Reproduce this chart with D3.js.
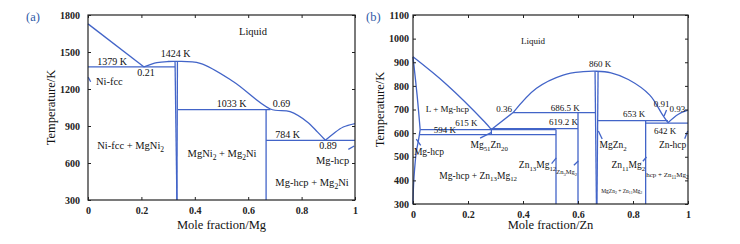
<!DOCTYPE html>
<head>
<meta charset="utf-8">
<style>
  body { margin: 0; background: #fff; }
  svg, svg text { font-family: 'Liberation Serif', 'DejaVu Serif', serif; }
</style>
<script src="https://cdn.jsdelivr.net/npm/d3@7"></script>
</head>
<body>
<svg id=chart width="740" height="244"></svg>
<script>
// ---- panel (a): Ni-Mg ----
const a_xTicks = [0, 0.2, 0.4, 0.6, 0.8, 1]
const a_yTicks = [300, 600, 900, 1200, 1500, 1800]
const a_curves = [
  [[0, 1728], [0.21, 1379]],
  [[0.21, 1379], [0.258, 1413], [0.3, 1423], [0.333, 1424], [0.42, 1408], [0.545, 1259], [0.683, 1038],
   [0.757, 1016], [0.82, 935], [0.86, 850], [0.889, 784]],
  [[0.889, 784], [0.919, 838], [0.956, 892], [1, 920]],
]
const a_lines = [
  [[0, 1379], [0.326, 1379]],
  [[0.337, 1033], [0.683, 1033]],
  [[0.667, 784], [1, 784]],
  [[0.326, 1424], [0.333, 300]],
  [[0.335, 1424], [0.333, 300]],
  [[0.667, 1033], [0.667, 300]],
  // leaders
  [[0.01, 1259], [0.001, 1295]],
  [[0.975, 711], [0.997, 738]],
]
const a_labels = [
  ['Liquid', 0.618, 1640, 10.5],
  ['1379 K', 0.09, 1398, 10],
  ['0.21', 0.217, 1305, 10],
  ['1424 K', 0.328, 1462, 10],
  ['Ni-fcc', 0.08, 1232, 10.5],
  ['1033 K', 0.538, 1056, 10],
  ['0.69', 0.725, 1056, 10],
  ['Ni-fcc + MgNi_2', 0.16, 716, 10.5],
  ['MgNi_2 + Mg_2Ni', 0.502, 649, 10.5],
  ['784 K', 0.748, 805, 10],
  ['0.89', 0.899, 711, 10],
  ['Mg-hcp', 0.916, 594, 10.5],
  ['Mg-hcp + Mg_2Ni', 0.839, 411, 10.5],
]

// ---- panel (b): Mg-Zn ----
const b_xTicks = [0, 0.2, 0.4, 0.6, 0.8, 1]
const b_yTicks = [300, 400, 500, 600, 700, 800, 900, 1000, 1100]
const b_curves = [
  [[0, 923], [0.12, 808], [0.26, 648], [0.285, 615]],
  [[0.285, 615], [0.364, 687]],
  [[0.364, 687], [0.449, 790], [0.546, 846], [0.619, 860], [0.667, 862], [0.72, 855], [0.783, 827],
   [0.861, 761], [0.904, 684], [0.927, 644]],
  [[0.927, 644], [0.965, 680], [1, 697]],
  [[0, 923], [0.015, 760], [0.026, 615]],
  [[0.026, 615], [0.02, 570], [0.012, 520], [0.006, 450], [0.002, 380], [0, 300]],
]
const b_lines = [
  [[0.364, 686.5], [0.662, 686.5]],
  [[0.285, 619.2], [0.6, 619.2]],
  [[0.026, 615], [0.52, 615]],
  [[0.022, 594], [0.52, 594]],
  [[0.285, 619.2], [0.285, 594]],
  [[0.52, 615], [0.52, 300]],
  [[0.6, 686.5], [0.6, 300]],
  [[0.662, 860], [0.667, 300]],
  [[0.673, 860], [0.669, 300]],
  [[0.673, 653], [0.927, 653]],
  [[0.846, 642], [1, 642]],
  [[0.846, 653], [0.846, 300]],
  // leaders
  [[0.913, 672], [0.922, 698]],
  [[0.244, 579], [0.286, 603]],
  [[0.028, 548], [0.012, 575]],
  [[0.504, 471], [0.521, 495]],
  [[0.585, 464], [0.601, 482]],
  [[0.674, 609], [0.688, 575]],
  [[0.836, 481], [0.849, 499]],
  [[0.988, 576], [0.999, 609]],
]
const b_labels = [
  ['Liquid', 0.436, 977, 9],
  ['860 K', 0.68, 881, 9],
  ['L + Mg-hcp', 0.125, 691, 9],
  ['0.36', 0.331, 691, 9],
  ['686.5 K', 0.554, 695, 9],
  ['619.2 K', 0.547, 634, 9],
  ['615 K', 0.194, 630, 9],
  ['594 K', 0.116, 602, 9],
  ['Mg_{51}Zn_{20}', 0.277, 537, 9.5],
  ['Mg-hcp', 0.058, 506, 9.5],
  ['Mg-hcp + Zn_{13}Mg_{12}', 0.237, 407, 9.5],
  ['Zn_{13}Mg_{12}', 0.453, 452, 9.5],
  ['Zn_3Mg_2', 0.559, 426, 6.5],
  ['MgZn_2', 0.728, 537, 9.5],
  ['Zn_{11}Mg_2', 0.783, 452, 9.5],
  ['Zn-hcp', 0.944, 537, 9.5],
  ['hcp + Zn_{11}Mg_2', 0.925, 414, 7],
  ['MgZn_2 + Zn_{11}Mg_2', 0.759, 347, 5.5],
  ['653 K', 0.804, 670, 9],
  ['642 K', 0.917, 595, 9],
  ['0.91', 0.904, 709, 9],
  ['0.93', 0.961, 691, 9],
]

const BLUE = '#4264c8'
const FONT = "'Liberation Serif', 'DejaVu Serif', serif"
const svg = d3.select('#chart').attr('font-family', FONT)

// "Mg_{51}Zn_{20}" -> tspans with subscripts
const rich = (sel, str, size) => {
  const parts = str.split(/_\{?(\d+)\}?/)
  parts.forEach((p, i) => {
    if (!p) return
    const sub = i % 2 === 1
    sel.append('tspan')
      .attr('font-size', sub ? size * 0.72 : size)
      .attr('dy', sub ? size * 0.28 : (i > 1 ? -size * 0.28 : 0))
      .text(p)
  })
}

function panel(cfg) {
  const { left, right, top, bottom, yDomain, xTicks, yTicks, curves, lines, labels, tag, xTitle, yTitleX, yLabelGap } = cfg
  const x = d3.scaleLinear().domain([0, 1]).range([left, right])
  const y = d3.scaleLinear().domain(yDomain).range([bottom, top])
  const g = svg.append('g')

  const line = d3.line().x(d => x(d[0])).y(d => y(d[1]))
  const smooth = d3.line().x(d => x(d[0])).y(d => y(d[1])).curve(d3.curveCatmullRom)

  g.selectAll('path.c').data(curves).join('path')
    .attr('class', 'c')
    .attr('d', smooth)
    .attr('fill', 'none').attr('stroke', BLUE).attr('stroke-width', 1.3)

  g.selectAll('path.l').data(lines).join('path')
    .attr('class', 'l')
    .attr('d', line)
    .attr('fill', 'none').attr('stroke', BLUE).attr('stroke-width', 1.3)

  // axes, ticks pointing inward on all sides
  const ax = (axisFn, scale, ticks, fmt) => axisFn(scale).tickValues(ticks).tickSizeInner(-3).tickSizeOuter(0).tickFormat(fmt)
  const styleAxis = s => {
    s.attr('font-family', FONT)
    s.select('.domain').remove()
    s.selectAll('line').attr('stroke', '#222').attr('stroke-width', 1)
    s.selectAll('text').attr('font-size', 10).attr('font-weight', 'bold').attr('fill', '#222')
  }
  g.append('g').attr('transform', `translate(0,${bottom})`)
    .call(ax(d3.axisBottom, x, xTicks, d3.format('')))
    .call(styleAxis)
    .call(s => s.selectAll('text').attr('dy', '1.05em').attr('y', 3))
  g.append('g').attr('transform', `translate(0,${top})`)
    .call(ax(d3.axisTop, x, xTicks, () => ''))
    .call(styleAxis)
  g.append('g').attr('transform', `translate(${left},0)`)
    .call(ax(d3.axisLeft, y, yTicks, d3.format('')))
    .call(styleAxis)
    .call(s => s.selectAll('text').attr('x', -yLabelGap))
  g.append('g').attr('transform', `translate(${right},0)`)
    .call(ax(d3.axisRight, y, yTicks, () => ''))
    .call(styleAxis)

  g.append('rect')
    .attr('x', left).attr('y', top).attr('width', right - left).attr('height', bottom - top)
    .attr('fill', 'none').attr('stroke', '#222').attr('stroke-width', 1.2)

  labels.forEach(([t, lx, ly, size]) => {
    g.append('text')
      .attr('x', x(lx)).attr('y', y(ly))
      .attr('text-anchor', 'middle')
      .attr('fill', '#111')
      .call(s => rich(s, t, size))
  })

  g.append('text')
    .attr('x', (left + right) / 2).attr('y', 229)
    .attr('text-anchor', 'middle').attr('font-size', 12.5).attr('fill', '#111')
    .text(xTitle)
  g.append('text')
    .attr('transform', `translate(${yTitleX},${(top + bottom) / 2}) rotate(-90)`)
    .attr('text-anchor', 'middle').attr('font-size', 12.5).attr('fill', '#111')
    .text('Temperature/K')
  g.append('text')
    .attr('x', tag[1]).attr('y', 21)
    .attr('font-size', 12.5).attr('fill', '#2f5aa8')
    .text(tag[0])
}

panel({
  left: 88, right: 355, top: 15, bottom: 200, yDomain: [300, 1800],
  xTicks: a_xTicks, yTicks: a_yTicks, curves: a_curves, lines: a_lines, labels: a_labels,
  tag: ['(a)', 26], xTitle: 'Mole fraction/Mg', yTitleX: 55, yLabelGap: 8,
})
panel({
  left: 413, right: 688, top: 15, bottom: 204, yDomain: [300, 1100],
  xTicks: b_xTicks, yTicks: b_yTicks, curves: b_curves, lines: b_lines, labels: b_labels,
  tag: ['(b)', 366], xTitle: 'Mole fraction/Zn', yTitleX: 384, yLabelGap: 4,
})
</script>
</body>
